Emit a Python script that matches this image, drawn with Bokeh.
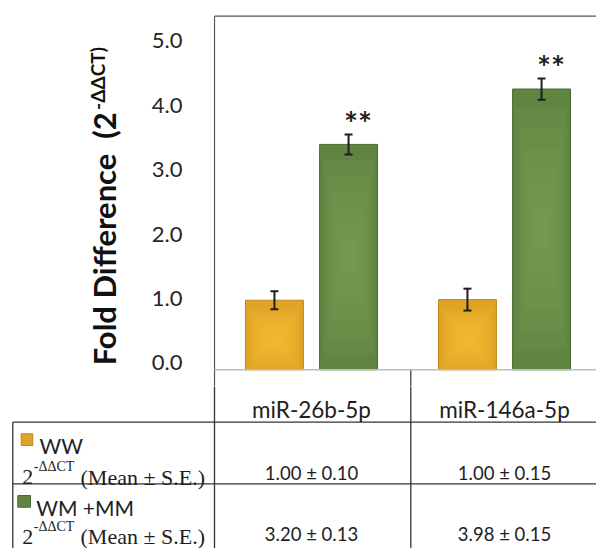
import math
from bokeh.plotting import figure
from bokeh.models import (Range1d, FixedTicker, NumeralTickFormatter, LinearAxis,
                          ColumnDataSource, Whisker, TeeHead)
from bokeh.layouts import column, row
from bokeh.embed import file_html
from bokeh.resources import INLINE
from bokeh.core.properties import value

# ---------------- data ----------------
categories = ["miR-26b-5p", "miR-146a-5p"]
group_names = ["WW", "WM +MM"]
ww_values = [1.08, 1.09]
ww_errors = [0.14, 0.17]
wm_values = [3.50, 4.36]
wm_errors = [0.155, 0.165]
significance = ["**", "**"]
ww_table = ["1.00 ± 0.10", "1.00 ± 0.15"]
wm_table = ["3.20 ± 0.13", "3.98 ± 0.15"]
y_ticks = [0, 1, 2, 3, 4, 5]
y_title = "Fold Difference"
y_title_open = "(2"
y_title_sup = "-ΔΔCT)"
stat_base = "2"
stat_sup = "-ΔΔCT"
stat_text = "(Mean ± S.E.)"

# ---------------- style ----------------
GOLD = "#DFA326"
GOLD_HI = "#FABD33"
GOLD_LINE = "#BE891C"
GREEN = "#5F8541"
GREEN_HI = "#7BA257"
GREEN_LINE = "#4A6832"
INK = "#1E1E1E"
SANS = "Lato"
SERIF = "Liberation Serif"

# page geometry (page pixels)
W, H = 596, 548
CAT_PX = 193.0        # pixels per category
X0_ABS = 214.5        # left edge of first category
Y0_ABS = 369.3        # value 0
PPU = 64.4            # pixels per value unit
TITLE_W = 148
TOP_H = 386
FRAME_L, FRAME_R, FRAME_T, FRAME_B = 213, W, 14, TOP_H
LABEL_SHIFT = 7.0 / PPU
DIV_X = 410.3
ROW_Y = [421.7, 483.3]

def cx(i):
    return X0_ABS + CAT_PX * (i + 0.5)

def no_grid(f):
    f.outline_line_color = None
    for g in f.grid:
        g.visible = False
    f.background_fill_color = "white"
    f.border_fill_color = "white"

# ---------------- chart figure ----------------
y_start = -(FRAME_B - Y0_ABS) / PPU
y_end = (Y0_ABS - FRAME_T) / PPU
chart = figure(width=W - TITLE_W, height=TOP_H, output_backend="svg", toolbar_location=None,
               x_axis_location=None, y_axis_location=None,
               x_range=Range1d((FRAME_L - X0_ABS) / CAT_PX, (FRAME_R - X0_ABS) / CAT_PX),
               y_range=Range1d(y_start, y_end),
               min_border_left=FRAME_L - TITLE_W, min_border_right=0,
               min_border_top=FRAME_T, min_border_bottom=0)
chart.extra_x_ranges = {"px": Range1d(FRAME_L, FRAME_R)}
chart.extra_y_ranges = {"px": Range1d(FRAME_B, FRAME_T),
                        "ticks": Range1d(y_start - LABEL_SHIFT, y_end - LABEL_SHIFT)}
no_grid(chart)

offset = 0.192
bw = 0.30
idx = list(range(len(categories)))
ww_x = [i + 0.5 - offset for i in idx]
wm_x = [i + 0.5 + offset for i in idx]

def gradient_bars(xs, tops, base, hi, line, centre):
    chart.vbar(x=xs, top=tops, bottom=0, width=bw, fill_color=base,
               line_color=line, line_width=1)
    n = 6
    for k in range(1, n + 1):
        f = k / (n + 1)
        half = [t * 0.5 * (1 - f) for t in tops]
        chart.vbar(x=xs, top=[t * centre + h for t, h in zip(tops, half)],
                   bottom=[max(t * centre - h, 0.0) for t, h in zip(tops, half)],
                   width=bw * (1 - 0.85 * f), fill_color=hi, fill_alpha=0.2,
                   line_color=None)

gradient_bars(ww_x, ww_values, GOLD, GOLD_HI, GOLD_LINE, 0.45)
gradient_bars(wm_x, wm_values, GREEN, GREEN_HI, GREEN_LINE, 0.5)

err_src = ColumnDataSource(dict(
    x=ww_x + wm_x,
    upper=[v + e for v, e in zip(ww_values, ww_errors)] + [v + e for v, e in zip(wm_values, wm_errors)],
    lower=[v - e for v, e in zip(ww_values, ww_errors)] + [v - e for v, e in zip(wm_values, wm_errors)],
))
whisk = Whisker(source=err_src, base="x", upper="upper", lower="lower", level="overlay",
                line_color=INK, line_width=2,
                upper_head=TeeHead(size=8, line_color=INK, line_width=2),
                lower_head=TeeHead(size=8, line_color=INK, line_width=2))
chart.add_layout(whisk)

star_pad = 11.0 / PPU
chart.text(x=[x + 9.5 / CAT_PX for x in wm_x],
           y=[v + e + star_pad for v, e in zip(wm_values, wm_errors)],
           text=significance, text_align="center", text_baseline="alphabetic",
           text_font=value(SANS), text_font_style="bold", text_font_size="33px",
           text_color=INK)

# frame lines (page pixel coordinates)
chart.segment(x0=[214, 214, DIV_X], y0=[15.7, 15.7, Y0_ABS], x1=[214, W, DIV_X],
              y1=[FRAME_B, 15.7, FRAME_B],
              line_color=["#555555", "#555555", "#333333"], line_width=1.2,
              x_range_name="px", y_range_name="px")
chart.segment(x0=[214], y0=[Y0_ABS], x1=[W], y1=[Y0_ABS],
              line_color="#BDBDBD", line_width=1.6, x_range_name="px", y_range_name="px")

yax = LinearAxis(y_range_name="ticks")
yax.ticker = FixedTicker(ticks=y_ticks)
yax.formatter = NumeralTickFormatter(format="0.0")
yax.axis_line_color = None
yax.major_tick_line_color = None
yax.minor_tick_line_color = None
yax.major_tick_out = 0
yax.major_tick_in = 0
yax.major_label_standoff = 31
yax.major_label_text_font = SANS
yax.major_label_text_font_size = "22px"
yax.major_label_text_color = "#262626"
chart.add_layout(yax, "left")

# ---------------- y title figure ----------------
tfig = figure(width=TITLE_W, height=TOP_H, output_backend="svg", toolbar_location=None,
              x_axis_location=None, y_axis_location=None,
              x_range=Range1d(0, TITLE_W), y_range=Range1d(TOP_H, 0),
              min_border=0)
no_grid(tfig)
tfig.text(x=[103, 103], y=[364, 129], text=[y_title, y_title_open], angle=math.pi / 2,
          text_align="left", text_baseline="alphabetic", text_font=value(SANS),
          text_font_style="bold", text_font_size="31px", text_color="#111111")
tfig.text(x=[97], y=[99], text=[y_title_sup], angle=math.pi / 2,
          text_align="left", text_baseline="alphabetic", text_font=value(SANS),
          text_font_style="bold", text_font_size="19px", text_color="#111111")

# ---------------- table figure ----------------
tab = figure(width=W, height=H - TOP_H, output_backend="svg", toolbar_location=None,
             x_axis_location=None, y_axis_location=None,
             x_range=Range1d(0, W), y_range=Range1d(H, TOP_H), min_border=0)
no_grid(tab)

LINE = "#333333"
tab.segment(x0=[214, DIV_X, 12.3, 12.3, 12.3], y0=[TOP_H - 1, TOP_H - 1, ROW_Y[0], ROW_Y[0], ROW_Y[1]],
            x1=[214, DIV_X, 12.3, W, W], y1=[H, H, H, ROW_Y[0], ROW_Y[1]],
            line_color=LINE, line_width=1.3)

centers = [cx(i) for i in idx]
tab.text(x=centers, y=[409.3] * len(centers), text=categories, text_align="center",
         text_baseline="alphabetic", text_font=value(SANS), text_font_size="22.5px",
         text_color=INK)
tab.text(x=centers, y=[472.3] * len(centers), text=ww_table, text_align="center",
         text_baseline="alphabetic", text_font=value(SANS), text_font_size="18.5px",
         text_color=INK)
tab.text(x=centers, y=[533.3] * len(centers), text=wm_table, text_align="center",
         text_baseline="alphabetic", text_font=value(SANS), text_font_size="18.5px",
         text_color=INK)

# legend keys
tab.quad(left=[20.7, 17.3], right=[32.3, 30.0], top=[433.3, 495.0], bottom=[445.0, 506.7],
         fill_color=[GOLD, GREEN], line_color=[GOLD_LINE, GREEN_LINE], line_width=1)
tab.text(x=[39, 35.7], y=[445, 506.7], text=group_names, text_align="left",
         text_baseline="alphabetic", text_font=value(SANS), text_font_size="21px",
         text_color=INK)
# 2^-ΔΔCT (Mean ± S.E.)
tab.text(x=[21.7, 21.7], y=[476.7, 536], text=[stat_base, stat_base], text_align="left",
         text_baseline="alphabetic", text_font=value(SERIF), text_font_size="22px",
         text_color=INK)
tab.text(x=[33.3, 33.3], y=[466, 526], text=[stat_sup, stat_sup], text_align="left",
         text_baseline="alphabetic", text_font=value(SERIF), text_font_size="14px",
         text_color=INK)
tab.text(x=[80, 80], y=[476.7, 536], text=[stat_text, stat_text], text_align="left",
         text_baseline="alphabetic", text_font=value(SERIF), text_font_size="22px",
         text_color=INK)

layout = column(row(tfig, chart, spacing=0), tab, spacing=0)
open("out.html", "w").write(file_html(layout, INLINE))
